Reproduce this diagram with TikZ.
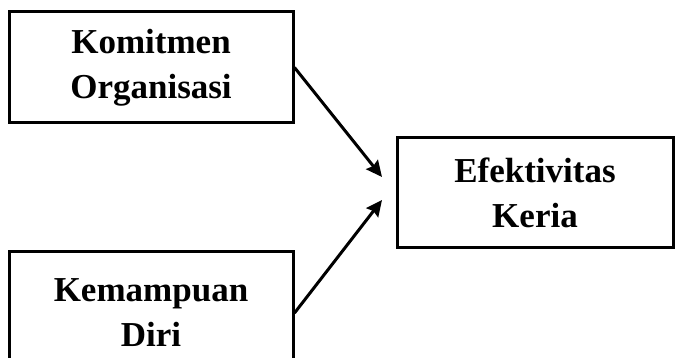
\documentclass[tikz,border=0pt]{standalone}
\usepackage{fontspec}
\setmainfont{Liberation Serif}
\usetikzlibrary{arrows.meta}
\begin{document}
\begin{tikzpicture}[x=1pt, y=-1pt, line width=3pt, var node/.style={rectangle, draw, align=center, inner sep=0pt, font=\fontsize{35}{45}\selectfont\bfseries}]
                \tikzstyle{every path}=[-{Stealth[length=16pt,width=15pt,inset=2pt]}]
                \useasboundingbox (0,0) rectangle (677,358);

                  \node[var node, minimum width=284pt, minimum height=111pt] (komitmen) at (151,67.5) {Komitmen\\Organisasi};
                  \node[var node, minimum width=284pt, minimum height=124pt] (kemampuan) at (151,313) {Kemampuan\\Diri};
                  \node[var node, minimum width=276pt, minimum height=109pt] (efektivitas) at (535,192.5) {Efektivitas\\Keria};
                  \coordinate (tip1) at (382,177);
                  \coordinate (tip2) at (382,200);

                  \draw (komitmen.east) -- (tip1);
                  \draw (kemampuan.east) -- (tip2);

                \end{tikzpicture}
\end{document}
